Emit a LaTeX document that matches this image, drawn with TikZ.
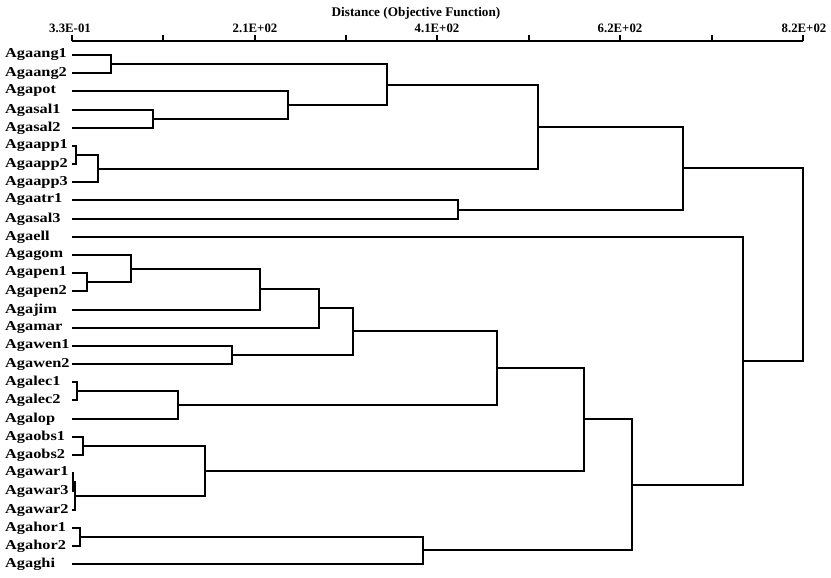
\documentclass[tikz,border=0pt]{standalone}
\usepackage{fontspec}
\usepackage{graphicx}
\setmainfont{Liberation Serif}
\newcommand\leafstretch[1]{\scalebox{1.2}[1]{#1}}
\tikzset{
  leaf/.style={anchor=west, inner sep=0pt, font=\bfseries\fontsize{13.6}{14}\selectfont},
  ticklab/.style={anchor=base, inner sep=0pt, font=\bfseries\fontsize{12.8}{13}\selectfont},
  titlelab/.style={anchor=base, inner sep=0pt, font=\bfseries\fontsize{13.2}{14}\selectfont},
  tree/.style={line width=2.4pt, line join=miter, black},
  axisline/.style={line width=2.4pt, black},
}
\begin{document}
\begin{tikzpicture}[x=1pt, y=-1pt]
\useasboundingbox (0,0) rectangle (831,578);
% title and axis
\node[titlelab] (title) at (416,17) {Distance (Objective Function)};
\coordinate (ax0) at (72,41);
\coordinate (ax1) at (803,41);
\draw[axisline] (ax0) -- (ax1);
\foreach \k/\tx in {0/72,1/163,2/255,3/346,4/437,5/529,6/620,7/712,8/803} {
  \coordinate (tk\k) at (\tx,41);
  \draw[line width=1.6pt] (tk\k) -- ++(0,-5.5);
}
\node[ticklab] (t0) at (70,33) {3.3E-01};
\node[ticklab] (t1) at (255,33) {2.1E+02};
\node[ticklab] (t2) at (437,33) {4.1E+02};
\node[ticklab] (t3) at (620,33) {6.2E+02};
\node[ticklab] (t4) at (804,33) {8.2E+02};
% leaves
\foreach \i/\ly/\name in {0/55/Agaang1,1/73/Agaang2,2/91/Agapot,3/110/Agasal1,4/128/Agasal2,5/146/Agaapp1,6/164/Agaapp2,7/182/Agaapp3,8/200/Agaatr1,9/219/Agasal3,10/237/Agaell,11/255/Agagom,12/273/Agapen1,13/291/Agapen2,14/310/Agajim,15/328/Agamar,16/346/Agawen1,17/364/Agawen2,18/382/Agalec1,19/400/Agalec2,20/419/Agalop,21/437/Agaobs1,22/455/Agaobs2,23/473/Agawar1,24/491/Agawar3,25/510/Agawar2,26/528/Agahor1,27/546/Agahor2,28/564/Agaghi} {
  \node[leaf] (n\i) at (5,\ly) {\leafstretch{\name}};
  \coordinate (l\i) at (72,\ly);
}
% merge points
\coordinate (mA) at (111,64);
\coordinate (mB) at (153,119);
\coordinate (mC) at (288,105);
\coordinate (mD) at (387,85);
\coordinate (mE) at (76,155);
\coordinate (mF) at (98,169);
\coordinate (mG) at (538,127);
\coordinate (mH) at (458,210);
\coordinate (mI) at (683,168);
\coordinate (mJ) at (87,282);
\coordinate (mK) at (131,269);
\coordinate (mL) at (260,289);
\coordinate (mM) at (319,308);
\coordinate (mN) at (232,355);
\coordinate (mO) at (353,331);
\coordinate (mP) at (77,391);
\coordinate (mQ) at (178,405);
\coordinate (mR) at (497,368);
\coordinate (mS) at (83,446);
\coordinate (mT) at (73,482);
\coordinate (mU) at (75,496);
\coordinate (mV) at (205,471);
\coordinate (mW) at (584,419);
\coordinate (mX) at (80,537);
\coordinate (mY) at (423,550);
\coordinate (mZ) at (632,485);
\coordinate (mAA) at (743,361);
\coordinate (mR0) at (803,264);
% links
\foreach \a/\m/\b in {l0/mA/l1, l3/mB/l4, l2/mC/mB, mA/mD/mC, l5/mE/l6, mE/mF/l7, mD/mG/mF, l8/mH/l9, mG/mI/mH,
  l12/mJ/l13, l11/mK/mJ, mK/mL/l14, mL/mM/l15, l16/mN/l17, mM/mO/mN, l18/mP/l19, mP/mQ/l20, mO/mR/mQ,
  l21/mS/l22, l23/mT/l24, mT/mU/l25, mS/mV/mU, mR/mW/mV, l26/mX/l27, mX/mY/l28, mW/mZ/mY, l10/mAA/mZ, mI/mR0/mAA} {
  \draw[tree] (\a) -| (\m) |- (\b);
}
\end{tikzpicture}
\end{document}
